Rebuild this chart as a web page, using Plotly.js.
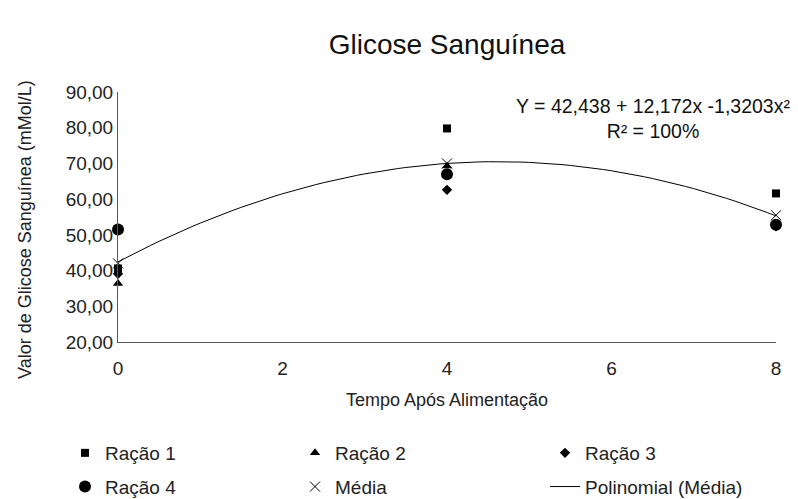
<!DOCTYPE html>
<html>
<head>
<meta charset="utf-8">
<script src="https://cdn.plot.ly/plotly-3.0.1.min.js"></script>
<style>html,body{margin:0;padding:0;background:#fff;}#chart{width:798px;height:499px;}</style>
</head>
<body>
<div id="chart"></div>
<script>
// Data
const tempo = [0, 4, 8];
const racao1 = [40.6, 79.8, 61.6];
const racao2 = [36.4, 69.3, 53.0];
const racao3 = [39.1, 62.6, 52.4];
const racao4 = [51.5, 67.0, 52.8];
const media = [42.0, 70.0, 55.5];
// Trendline coefficients as printed on the chart: Y = a + b x + c x^2
const polyCoef = [42.438, 12.172, -1.3203];
const xTicks = [0, 2, 4, 6, 8];
const yTicks = [20, 30, 40, 50, 60, 70, 80, 90];

const FONT = 'Liberation Sans, Arial, sans-serif';
const polyX = [];
const polyY = [];
for (let i = 0; i <= 80; i++) {
  const x = i / 10;
  polyX.push(x);
  polyY.push(polyCoef[0] + polyCoef[1] * x + polyCoef[2] * x * x);
}

const mk = (name, y, symbol, size, legend, group, rank) => ({
  type: 'scatter', mode: 'markers', x: tempo, y: y, name: name,
  marker: {symbol: symbol, size: size, color: '#000'},
  cliponaxis: false, legend: legend, legendgroup: group, legendrank: rank
});

const data = [
  {type: 'scatter', mode: 'lines', x: polyX, y: polyY, name: 'Polinomial (Média)',
   line: {color: '#000', width: 1}, legend: 'legend3', legendgroup: 'g6', legendrank: 2, hoverinfo: 'skip'},
  mk('Ração 1', racao1, 'square', 8, 'legend', 'g1', 1),
  mk('Ração 4', racao4, 'circle', 12, 'legend', 'g4', 2),
  mk('Ração 2', racao2, 'triangle-up', 9, 'legend2', 'g2', 1),
  {type: 'scatter', mode: 'markers', x: tempo, y: media, name: 'Média',
   marker: {symbol: 'x-thin-open', size: 10, color: '#000', line: {color: '#000', width: 1}},
   cliponaxis: false, legend: 'legend2', legendgroup: 'g5', legendrank: 2},
  mk('Ração 3', racao3, 'diamond', 8, 'legend3', 'g3', 1)
];

const legBase = (x) => ({
  xref: 'container', yref: 'container', x: x, y: 1 - 434 / 499, yanchor: 'top', xanchor: 'left',
  orientation: 'v', font: {family: FONT, size: 19, color: '#222'}, tracegroupgap: 6,
  bgcolor: 'rgba(0,0,0,0)', traceorder: 'grouped', itemwidth: 30
});

const layout = {
  width: 798, height: 499,
  paper_bgcolor: '#fff', plot_bgcolor: '#fff',
  separators: ',.',
  margin: {l: 118, r: 22, t: 92, b: 157, autoexpand: false},
  font: {family: FONT, color: '#222'},
  title: {text: 'Glicose Sanguínea', font: {family: FONT, size: 28, color: '#111'},
          x: 0.5, xanchor: 'center', xref: 'paper', y: 1 - 44 / 499, yanchor: 'middle'},
  xaxis: {range: [0, 8], tickvals: xTicks, ticktext: xTicks.map(String), showgrid: false, zeroline: false,
          showline: true, linecolor: '#595959', linewidth: 1, ticks: '', ticklabelstandoff: 9,
          tickfont: {family: FONT, size: 19, color: '#222'},
          title: {text: 'Tempo Após Alimentação', font: {family: FONT, size: 18, color: '#222'}}},
  yaxis: {range: [20, 90], tickvals: yTicks, tickformat: '.2f', showgrid: false, zeroline: false,
          showline: true, linecolor: '#595959', linewidth: 1, ticks: '',
          tickfont: {family: FONT, size: 19, color: '#222'}},
  showlegend: true,
  legend: legBase(65 / 798),
  legend2: legBase(295 / 798),
  legend3: legBase(545 / 798),
  annotations: [{
    xref: 'paper', yref: 'paper', x: (653 - 118) / 658, y: (342 - 118) / 250,
    xanchor: 'center', yanchor: 'middle', align: 'center', showarrow: false,
    text: 'Y = 42,438 + 12,172x -1,3203x²<br>R² = 100%',
    font: {family: FONT, size: 19.5, color: '#111'}
  }, {
    xref: 'paper', yref: 'paper', x: (25 - 118) / 658, y: (342 - 230) / 250,
    xanchor: 'center', yanchor: 'middle', showarrow: false, textangle: -90,
    text: 'Valor de Glicose Sanguínea (mMol/L)',
    font: {family: FONT, size: 18, color: '#222'}
  }]
};

Plotly.newPlot('chart', data, layout, {displayModeBar: false, staticPlot: true});
</script>
</body>
</html>
